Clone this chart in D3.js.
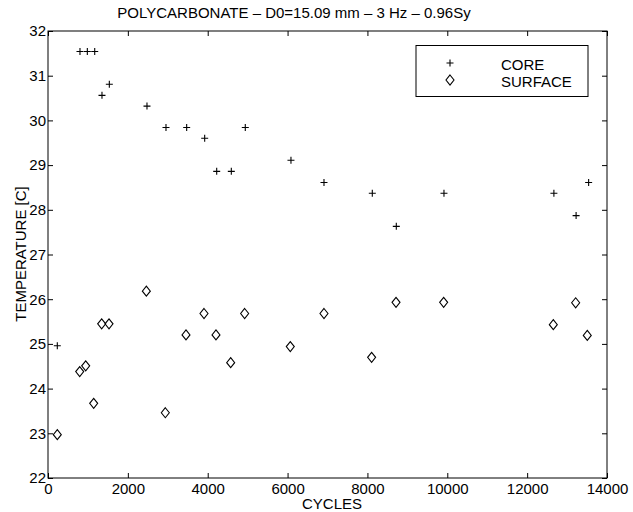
<!DOCTYPE html>
<html>
<head>
<meta charset="utf-8">
<script src="https://cdn.jsdelivr.net/npm/d3@7"></script>
<style>
  body { margin: 0; background: #fff; }
  text { font-family: "Liberation Sans", Arial, sans-serif; fill: #000; }
</style>
</head>
<body>
<div id="chart"></div>
<script>
// data
const coreCycles = [233, 801, 985, 1170, 1352, 1536, 2479, 2955, 3473, 3924, 4225,
  4591, 4941, 6085, 6912, 8122, 8723, 9917, 12670, 13226, 13540];
const coreTemp = [24.96, 31.54, 31.54, 31.54, 30.56, 30.81, 30.32, 29.84, 29.84, 29.60, 28.86,
  28.86, 29.84, 29.11, 28.61, 28.37, 27.63, 28.37, 28.37, 27.87, 28.61];

const surfaceCycles = [233, 794, 944, 1144, 1344, 1528, 2463, 2938, 3456, 3907, 4207,
  4575, 4925, 6068, 6912, 8105, 8716, 9909, 12655, 13215, 13506];
const surfaceTemp = [22.97, 24.38, 24.51, 23.67, 25.45, 25.45, 26.18, 23.46, 25.20, 25.68, 25.20,
  24.58, 25.68, 24.94, 25.68, 24.70, 25.93, 25.93, 25.43, 25.92, 25.19];

const xTicks = [0, 2000, 4000, 6000, 8000, 10000, 12000, 14000];
const yTicks = [22, 23, 24, 25, 26, 27, 28, 29, 30, 31, 32];
const seriesNames = ['CORE', 'SURFACE'];

const W = 633, H = 512;
const margin = { top: 31, right: 26, bottom: 34, left: 48 };

let svg = d3.select('#chart')
  .append('svg')
  .attr('width', W)
  .attr('height', H);

let xScale = d3.scaleLinear()
  .domain([0, 14000])
  .range([margin.left, W - margin.right]);

let yScale = d3.scaleLinear()
  .domain([22, 32])
  .range([H - margin.bottom, margin.top]);

// ticks point inward on all four sides
function styleAxis(g) {
  g.select('.domain').remove();
  g.selectAll('line').attr('stroke', '#000');
  g.selectAll('text')
    .style('font-size', '15px')
    .style('font-family', '"Liberation Sans", Arial, sans-serif')
    .attr('fill', '#000');
}

svg.append('g')
  .attr('transform', `translate(0, ${yScale(22)})`)
  .call(d3.axisBottom(xScale).tickValues(xTicks).tickSize(-5).tickPadding(5).tickFormat(d3.format('d')))
  .call(styleAxis);

svg.append('g')
  .attr('transform', `translate(0, ${yScale(32)})`)
  .call(d3.axisTop(xScale).tickValues(xTicks).tickSize(-5).tickFormat(''))
  .call(styleAxis);

svg.append('g')
  .attr('transform', `translate(${xScale(0)}, 0)`)
  .call(d3.axisLeft(yScale).tickValues(yTicks).tickSize(-5).tickPadding(2).tickFormat(d3.format('d')))
  .call(styleAxis);

svg.append('g')
  .attr('transform', `translate(${xScale(14000)}, 0)`)
  .call(d3.axisRight(yScale).tickValues(yTicks).tickSize(-5).tickFormat(''))
  .call(styleAxis);

// frame
svg.append('rect')
  .attr('x', xScale(0))
  .attr('y', yScale(32))
  .attr('width', xScale(14000) - xScale(0))
  .attr('height', yScale(22) - yScale(32))
  .attr('fill', 'none')
  .attr('stroke', '#000')
  .attr('stroke-width', 1);

// markers
const plusPath = 'M-3.5,0H3.5M0,-3.5V3.5';
const diamondPath = 'M0,-5L4,0L0,5L-4,0Z';

svg.append('g').selectAll('path')
  .data(coreCycles.map((c, i) => [c, coreTemp[i]]))
  .enter()
  .append('path')
  .attr('d', plusPath)
  .attr('transform', d => `translate(${xScale(d[0])}, ${yScale(d[1])})`)
  .attr('fill', 'none')
  .attr('stroke', '#000')
  .attr('stroke-width', 1.1);

svg.append('g').selectAll('path')
  .data(surfaceCycles.map((c, i) => [c, surfaceTemp[i]]))
  .enter()
  .append('path')
  .attr('d', diamondPath)
  .attr('transform', d => `translate(${xScale(d[0])}, ${yScale(d[1])})`)
  .attr('fill', 'none')
  .attr('stroke', '#000')
  .attr('stroke-width', 1.1);

// legend
let legend = svg.append('g');
legend.append('rect')
  .attr('x', 416).attr('y', 45.5)
  .attr('width', 172).attr('height', 51)
  .attr('fill', '#fff')
  .attr('stroke', '#000');

[plusPath, diamondPath].forEach((p, i) => {
  legend.append('path')
    .attr('d', p)
    .attr('transform', `translate(450, ${63 + i * 17})`)
    .attr('fill', 'none')
    .attr('stroke', '#000')
    .attr('stroke-width', 1.1);
  legend.append('text')
    .attr('x', 501)
    .attr('y', 69.5 + i * 17)
    .style('font-size', '15px')
    .text(seriesNames[i]);
});

// title and axis labels
svg.append('text')
  .attr('x', 294)
  .attr('y', 18)
  .attr('text-anchor', 'middle')
  .style('font-size', '15px')
  .text('POLYCARBONATE \u2013 D0=15.09 mm \u2013 3 Hz \u2013 0.96Sy');

svg.append('text')
  .attr('x', 332)
  .attr('y', 509)
  .attr('text-anchor', 'middle')
  .style('font-size', '15px')
  .text('CYCLES');

svg.append('text')
  .attr('transform', `translate(26, 254) rotate(-90)`)
  .attr('text-anchor', 'middle')
  .style('font-size', '15px')
  .text('TEMPERATURE [C]');
</script>
</body>
</html>
